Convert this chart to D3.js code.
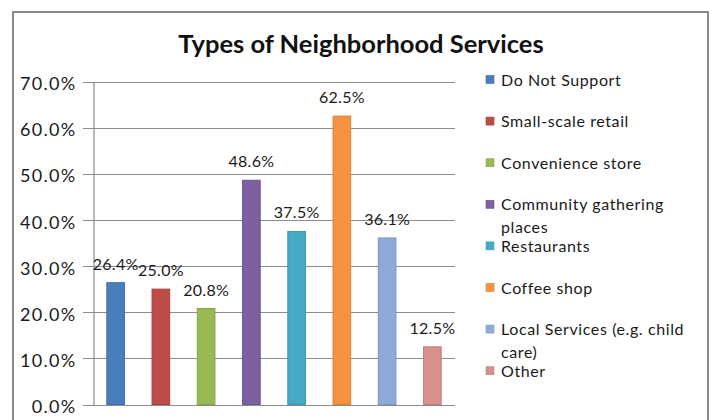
<!DOCTYPE html>
<html>
<head>
<meta charset="utf-8">
<script src="https://cdn.jsdelivr.net/npm/d3@7"></script>
<style>
  html, body { margin: 0; padding: 0; background: #fff; }
  svg { display: block; }
  text { font-family: Lato, "Open Sans", sans-serif; fill: #1a1a1a; }
</style>
</head>
<body>
<svg id="chart" width="712" height="420"></svg>
<script>
// Survey results: share of respondents for each type of neighborhood service
const categories = [
  "Do Not Support",
  "Small-scale retail",
  "Convenience store",
  "Community gathering places",
  "Restaurants",
  "Coffee shop",
  "Local Services (e.g. child care)",
  "Other"
];
const values = [26.4, 25.0, 20.8, 48.6, 37.5, 62.5, 36.1, 12.5];
const colors = ["#4a7ebb", "#be4b48", "#98b954", "#7d60a0", "#46aac5", "#f69240", "#8eaad8", "#d88f8d"];
const yTicks = [0, 10, 20, 30, 40, 50, 60, 70];
const title = "Types of Neighborhood Services";

const svg = d3.select("#chart");
const plot = { left: 93, right: 455, top: 81.5, bottom: 404.5 };

// chart frame
svg.append("rect")
  .attr("x", 13).attr("y", 12)
  .attr("width", 695).attr("height", 440)
  .attr("fill", "#fff")
  .attr("stroke", "#8a8a8a").attr("stroke-width", 2);

svg.append("text")
  .attr("x", 361).attr("y", 53)
  .attr("text-anchor", "middle")
  .style("font-size", "25.5px").style("font-weight", "bold")
  .style("fill", "#111")
  .text(title);

const x = d3.scaleBand()
  .domain(categories)
  .range([plot.left, plot.right])
  .paddingInner(0.61).paddingOuter(0.305);

const y = d3.scaleLinear()
  .domain([0, 70])
  .range([plot.bottom, plot.top]);

// gridlines with outside tick marks
svg.append("g")
  .selectAll("line")
  .data(yTicks)
  .join("line")
  .attr("x1", plot.left - 10).attr("x2", plot.right)
  .attr("y1", d => Math.round(y(d)) + 0.5).attr("y2", d => Math.round(y(d)) + 0.5)
  .attr("stroke", "#8c8c8c").attr("stroke-width", 1);

// y axis
const yAxis = d3.axisLeft(y)
  .tickValues(yTicks)
  .tickFormat(d => d3.format(".1f")(d) + "%")
  .tickSize(0).tickPadding(17);
const ga = svg.append("g")
  .attr("transform", `translate(${plot.left + 0.5},0)`)
  .call(yAxis);
ga.select(".domain").attr("stroke", "#8c8c8c").attr("stroke-width", 1.2);
ga.selectAll("text")
  .style("font-size", "18px")
  .style("letter-spacing", "1.3px")
  .style("font-family", "Lato, 'Open Sans', sans-serif")
  .attr("dy", "0.45em")
  .attr("fill", "#1a1a1a");

// bars
const data = categories.map((c, i) => ({ c, v: values[i], color: colors[i] }));
svg.append("g")
  .selectAll("rect")
  .data(data)
  .join("rect")
  .attr("x", d => x(d.c))
  .attr("y", d => y(d.v))
  .attr("width", x.bandwidth())
  .attr("height", d => y(0) - y(d.v))
  .attr("fill", d => d.color)
  .attr("stroke", d => d3.color(d.color).darker(0.35))
  .attr("stroke-width", 1);

// value labels
svg.append("g")
  .selectAll("text")
  .data(data)
  .join("text")
  .attr("x", d => x(d.c) + x.bandwidth() / 2)
  .attr("y", d => y(d.v) - 13)
  .attr("text-anchor", "middle")
  .style("font-size", "16px")
  .style("letter-spacing", "0.3px")
  .text(d => d3.format(".1f")(d.v) + "%");

// legend
const legend = svg.append("g");
const legX = 486, legY0 = 80, legStep = 41.6, lineH = 22.7, maxW = 195;
data.forEach((d, i) => {
  const cy = legY0 + i * legStep;
  legend.append("rect")
    .attr("x", legX).attr("y", cy - 4.5)
    .attr("width", 8).attr("height", 8)
    .attr("fill", d.color)
    .attr("stroke", d3.color(d.color).darker(0.3)).attr("stroke-width", 0.6);
  const t = legend.append("text")
    .attr("x", legX + 15).attr("y", cy + 5.5)
    .style("font-size", "16px")
    .style("letter-spacing", "0.6px");
  // wrap long names onto a second line
  const words = d.c.split(" ");
  let line = [];
  let ts = t.append("tspan").attr("x", legX + 15).attr("dy", 0);
  words.forEach(w => {
    line.push(w);
    ts.text(line.join(" "));
    if (ts.node().getComputedTextLength() > maxW && line.length > 1) {
      line.pop();
      ts.text(line.join(" "));
      line = [w];
      ts = t.append("tspan").attr("x", legX + 15).attr("dy", lineH).text(w);
    }
  });
});
</script>
</body>
</html>
